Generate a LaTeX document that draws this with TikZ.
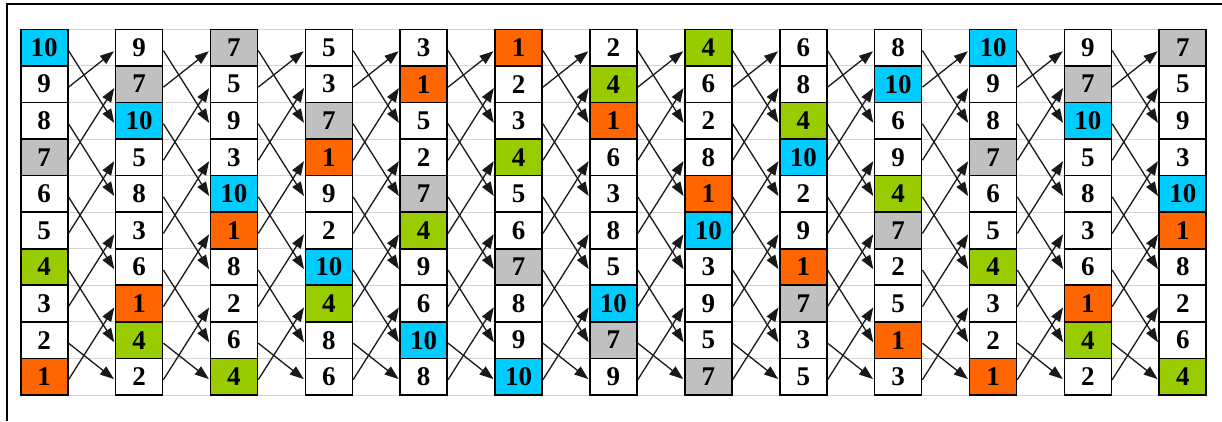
\documentclass[tikz,border=0pt]{standalone}
\usepackage{fontspec}
\setmainfont{Liberation Serif}
\usetikzlibrary{arrows.meta}
\definecolor{cyanc}{HTML}{00CCFF}
\definecolor{orangec}{HTML}{FF6600}
\definecolor{limec}{HTML}{99CC00}
\definecolor{grayc}{HTML}{C0C0C0}
\definecolor{gridc}{HTML}{D4D4D4}
\tikzset{
  cell/.style={draw=black, line width=1.6pt, rectangle, minimum width=47pt, minimum height=36.57pt, inner sep=0pt,
    font=\fontsize{27}{27}\selectfont\bfseries},
  v1/.style={fill=orangec}, v2/.style={fill=white}, v3/.style={fill=white}, v4/.style={fill=limec},
  v5/.style={fill=white}, v6/.style={fill=white}, v7/.style={fill=grayc}, v8/.style={fill=white},
  v9/.style={fill=white}, v10/.style={fill=cyanc},
  arr/.style={draw=black!90, line width=1.3pt, -{Triangle[length=14pt,width=10pt]}, shorten >=1pt},
  gridline/.style={draw=gridc, line width=0.9pt},
  frameline/.style={draw=black, line width=2pt}
}
\begin{document}
\begin{tikzpicture}[x=1pt, y=-1pt]
\useasboundingbox (0,0) rectangle (1222,421);
\fill[white] (0,0) rectangle (1222,421);
\draw[frameline] (6.5,421) -- (6.5,4) -- (1222,4);
% background grid
\foreach \k in {0,...,10} {
  \draw[gridline] (20.7,29.3+36.57*\k) -- (1206,29.3+36.57*\k);
}
% cells
\foreach \col [count=\i] in {
  {10,9,8,7,6,5,4,3,2,1},
  {9,7,10,5,8,3,6,1,4,2},
  {7,5,9,3,10,1,8,2,6,4},
  {5,3,7,1,9,2,10,4,8,6},
  {3,1,5,2,7,4,9,6,10,8},
  {1,2,3,4,5,6,7,8,9,10},
  {2,4,1,6,3,8,5,10,7,9},
  {4,6,2,8,1,10,3,9,5,7},
  {6,8,4,10,2,9,1,7,3,5},
  {8,10,6,9,4,7,2,5,1,3},
  {10,9,8,7,6,5,4,3,2,1},
  {9,7,10,5,8,3,6,1,4,2},
  {7,5,9,3,10,1,8,2,6,4}} {
  \foreach \v [count=\r] in \col {
    \node[cell, v\v] (c\i-\r) at ({20.7+23.5+94.88*(\i-1)}, {29.3+36.57*(\r-0.5)}) {\v};
  }
}
% arrows
\foreach \i [evaluate=\i as \j using {int(\i+1)}] in {1,...,12} {
  \foreach \s/\t in {1/3,2/1,3/5,4/2,5/7,6/4,7/9,8/6,9/10,10/8} {
    \draw[arr] ([yshift=-3pt]c\i-\s.east) -- ([yshift=-3pt]c\j-\t.west);
  }
}
\end{tikzpicture}
\end{document}
